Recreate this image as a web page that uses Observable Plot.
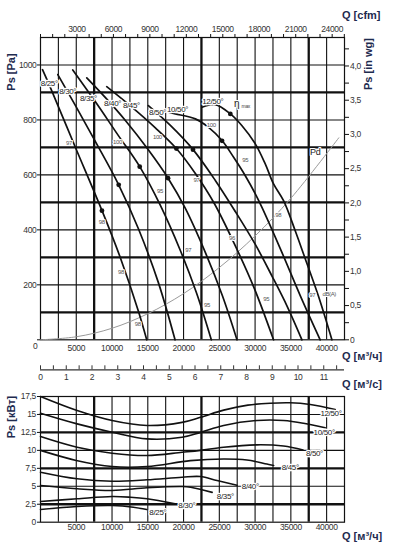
<!DOCTYPE html>
<html><head><meta charset="utf-8">
<script src="https://cdn.jsdelivr.net/npm/d3@7"></script>
<script src="https://cdn.jsdelivr.net/npm/@observablehq/plot@0.6"></script>
<style>
body{margin:0;background:#fff;}
#wrap{position:relative;width:393px;height:559px;overflow:hidden;}
#wrap svg{position:absolute;left:0;}
#wrap svg text{letter-spacing:-0.35px;}
.t{position:absolute;font:bold 11px "Liberation Sans",Arial,sans-serif;color:#1e2b4f;white-space:nowrap;line-height:11px;}
.r{transform:translate(-50%,-50%) rotate(-90deg);transform-origin:center;}
</style></head><body><div id="wrap"></div>
<script>
// ---------- axis / grid values ----------
const qGridThin = [2500,5000,10000,12500,15000,17500,20000,25000,27500,30000,32500,35000,40000];
const qGridThick = [7500,22500,37500];
const qLabels = [5000,10000,15000,20000,25000,30000,35000,40000];
const paGridThin = [200,400,600,800,1000];
const paGridThick = [100,300,500,700,900];
const paTicks = [0,200,400,600,800,1000];
const inwgMajor = [0,0.5,1,1.5,2,2.5,3,3.5,4];
const inwgMinor = [0.25,0.75,1.25,1.75,2.25,2.75,3.25,3.75,4.25];
const cfmMajor = [3000,6000,9000,12000,15000,18000,21000,24000];
const cfmMinor = [0,1000,2000,4000,5000,7000,8000,10000,11000,13000,14000,16000,17000,19000,20000,22000,23000,25000];
const msLabels = [0,1,2,3,4,5,6,7,8,9,10,11];
const msTicks = [0,0.5,1,1.5,2,2.5,3,3.5,4,4.5,5,5.5,6,6.5,7,7.5,8,8.5,9,9.5,10,10.5,11,11.5];
const kwTicks = [0,2.5,5,7.5,10,12.5,15,17.5];
const kwGridThin = [5,10,15];
const kwGridThick = [2.5,7.5,12.5];
const CFM = 1.69901, INWG = 249.089, M3S = 3600;

// ---------- fan pressure curves (Q m3/h, Ps Pa) ----------
const fans = ["8/25°","8/30°","8/35°","8/40°","8/45°","8/50°","10/50°","12/50°"];
const psQ = [
  [280,1400,4900,8600,11200,13700,14850],
  [2420,4890,7680,10930,13690,16480,18810],
  [4510,7680,10890,13870,16760,19550,21790,23880],
  [6470,9080,11870,14940,17840,20250,23040,25420,27470],
  [9260,12570,16060,18990,21650,24300,27090,29890,32580],
  [15080,18160,21330,24440,27230,30030,32400,34500,36550],
  [17880,18850,21650,23500,25380,27000,28630,30030,30960,33520,36310,39100],
  [22580,24440,26540,28170,30030,31420,32580,33980,35610,37010,38830,40740]
];
const psPa = [
  [983,917,699,470,296,103,0],
  [965,852,721,564,404,208,0],
  [982,866,743,630,489,325,172,0],
  [953,881,798,696,588,478,318,161,0],
  [921,851,771,696,605,496,350,187,0],
  [852,780,692,580,467,347,230,121,0],
  [828,822,804,773,725,664,597,531,482,332,161,0],
  [846,856,822,779,713,640,567,506,397,295,161,0]
];
// efficiency max points
const etaQ = [8590,10930,13870,17830,18990,21320,25380,26540];
const etaPa = [470,564,630,588,696,692,724,822];
// dynamic pressure
const pdQ = [0,5000,10000,15000,20000,25000,30000,35000,41700];
const pdPa = [0,11,42,95,168,263,378,515,735];
// curve labels
const fanLabelQ = [1230,3800,6700,10080,12710,16370,19160,24090];
const fanLabelPa = [933,904,880,860,852,828,840,868];
// noise labels dB(A)
const dbText = ["97","98","98","98","100","100","95","97","97","100","95","98","96","95","95","97","dB(A)"];
const dbQ = [3980,8560,11240,13590,10750,16340,16720,21790,20670,23880,28630,33240,26770,23280,31560,37990,40360];
const dbPa = [715,430,246,58,721,737,540,582,327,783,654,455,369,127,147,161,167];

// ---------- power curves (Q m3/h, kW) ----------
const kwQ = [
  [0,5120,10010,12990,14850],
  [0,5120,10010,12570,14900,18810],
  [0,5120,10010,14900,19790,21000,24000],
  [0,5120,10010,14900,19790,22350,24680,27470],
  [0,5000,10010,14900,20950,25600,28860,31650,32600],
  [0,5120,10010,14900,19790,22350,25600,30270,33980,36700],
  [0,5120,10010,14900,19790,22350,25600,30270,33980,36770,39800],
  [0,5120,10010,14900,19790,22350,25610,29000,32120,34920,37710,41200]
];
const kwVal = [
  [1.77,2.18,2.32,2.09,1.77],
  [2.88,3.26,3.58,3.48,3.26,2.56],
  [5.1,4.65,4.41,4.79,4.97,4.87,4.15],
  [6.96,6.04,5.7,5.9,6.26,6.36,5.8,5.15],
  [10.0,8.6,7.75,7.75,8.57,8.8,8.66,8.1,7.9],
  [11.93,10.44,9.6,9.28,9.74,10.0,10.44,10.77,10.6,10.05],
  [15.17,13.69,12.53,11.6,11.83,12.5,13.46,14.16,14.16,13.78,13.14],
  [17.5,15.55,14.16,13.46,13.9,14.6,15.6,16.3,16.56,16.62,16.38,15.69]
];
const kwLabelQ = [16410,20460,25840,29330,34920,38300,39660,40610];
const kwLabelVal = [1.39,2.32,3.58,4.97,7.57,9.6,12.44,15.09];

// ---------- build rows ----------
const psRows = fans.flatMap((f,i)=>psQ[i].map((q,j)=>({fan:f,q,p:psPa[i][j]})));
const kwRows = fans.flatMap((f,i)=>kwQ[i].map((q,j)=>({fan:f,q,p:kwVal[i][j]})));
const pdRows = pdQ.map((q,i)=>({q,p:pdPa[i]}));
const etaRows = etaQ.map((q,i)=>({q,p:etaPa[i]}));
const fanLab = fans.map((f,i)=>({t:f,q:fanLabelQ[i],p:fanLabelPa[i]}));
const dbRows = dbText.map((t,i)=>({t,q:dbQ[i],p:dbPa[i]}));
const kwLab = fans.map((f,i)=>({t:f,q:kwLabelQ[i],p:kwLabelVal[i]}));

const font = '"Liberation Sans Narrow","Liberation Sans",Arial,sans-serif';
const ink = "#111";
const comma = v => v===0 ? "0" : (Math.round(v*10)/10).toFixed(1).replace(".",",");
const style = {fontFamily:font,fontSize:"8.5px",color:"#333",background:"transparent",overflow:"visible"};

const topPlot = Plot.plot({
  width:393,height:362,marginLeft:40,marginRight:49,marginTop:37,marginBottom:22.7,
  x:{domain:[0,42500],label:null},y:{domain:[0,1100],label:null},style,
  marks:[
    Plot.ruleX(qGridThin,{stroke:ink,strokeWidth:1.1}),
    Plot.ruleX(qGridThick,{stroke:ink,strokeWidth:2.3}),
    Plot.ruleY(paGridThin,{stroke:ink,strokeWidth:1.1}),
    Plot.ruleY(paGridThick,{stroke:ink,strokeWidth:2.3}),
    Plot.frame({stroke:ink,strokeWidth:1.2}),
    Plot.line(pdRows,{x:"q",y:"p",stroke:"#9a9a9a",strokeWidth:1,curve:"catmull-rom"}),
    Plot.line(psRows,{x:"q",y:"p",z:"fan",stroke:ink,strokeWidth:1.7,curve:"catmull-rom"}),
    Plot.dot(etaRows,{x:"q",y:"p",r:2.4,fill:ink}),
    Plot.text(dbRows,{x:"q",y:"p",text:"t",fontSize:6,fill:"#555",stroke:"white",strokeWidth:2,paintOrder:"stroke"}),
    Plot.text(fanLab,{x:"q",y:"p",text:"t",fontSize:8,fill:"#222",stroke:"white",strokeWidth:2.5,paintOrder:"stroke"}),
    Plot.text([{q:27400,p:858}],{x:"q",y:"p",text:()=>"η",fontSize:10,fill:"#222",stroke:"white",strokeWidth:2,paintOrder:"stroke"}),
    Plot.text([{q:28700,p:851}],{x:"q",y:"p",text:()=>"max",fontSize:5,fill:"#444"}),
    Plot.text([{q:38400,p:682}],{x:"q",y:"p",text:()=>"Pd",fontSize:9,fill:"#222",stroke:"white",strokeWidth:2,paintOrder:"stroke"}),
    Plot.text([{q:0,p:0}],{x:"q",y:"p",text:()=>"0",dx:-3,dy:6,textAnchor:"end",fontSize:8.5,fill:"#333"}),
    Plot.axisY({anchor:"left",ticks:paTicks,tickSize:3,tickPadding:1,stroke:ink,tickFormat:d=>d===0?"":String(d)}),
    Plot.axisY({anchor:"right",ticks:inwgMinor.map(v=>v*INWG),tickSize:4,stroke:ink,tickFormat:()=>""}),
    Plot.axisY({anchor:"right",ticks:inwgMajor.map(v=>v*INWG),tickSize:4,tickPadding:1.5,stroke:ink,tickFormat:d=>comma(d/INWG)}),
    Plot.axisX({anchor:"top",ticks:cfmMinor.map(c=>c*CFM),tickSize:4,stroke:ink,tickFormat:()=>""}),
    Plot.axisX({anchor:"top",ticks:cfmMajor.map(c=>c*CFM),tickSize:4,tickPadding:2,stroke:ink,tickFormat:d=>String(Math.round(d/CFM/100)*100)}),
    Plot.axisX({anchor:"bottom",ticks:qLabels,tickSize:0,tickPadding:5,tickFormat:d=>String(d)})
  ]
});
topPlot.style.top="0px";

const msPlot = Plot.plot({
  width:393,height:32,marginLeft:40,marginRight:49,marginTop:10.3,marginBottom:17.7,
  x:{domain:[0,42500],label:null},y:{domain:[0,1],axis:null},style,
  marks:[
    Plot.tickX(msTicks,{x:d=>d*M3S,stroke:"#333"}),
    Plot.ruleY([0],{stroke:"#333",strokeWidth:1.2}),
    Plot.axisX({anchor:"bottom",ticks:msLabels.map(v=>v*M3S),tickSize:0,tickPadding:4,tickFormat:d=>String(Math.round(d/M3S))})
  ]
});
msPlot.style.top="355px";

const kwPlot = Plot.plot({
  width:393,height:172,marginLeft:40,marginRight:49,marginTop:9,marginBottom:37.3,
  x:{domain:[0,42500],label:null},y:{domain:[0,17.5],label:null},style,
  marks:[
    Plot.ruleX(qGridThin,{stroke:ink,strokeWidth:1.1}),
    Plot.ruleX(qGridThick,{stroke:ink,strokeWidth:2.3}),
    Plot.ruleY(kwGridThin,{stroke:ink,strokeWidth:1.1}),
    Plot.ruleY(kwGridThick,{stroke:ink,strokeWidth:2.3}),
    Plot.frame({stroke:ink,strokeWidth:1.2}),
    Plot.line(kwRows,{x:"q",y:"p",z:"fan",stroke:ink,strokeWidth:1.6,curve:"catmull-rom"}),
    Plot.text(kwLab,{x:"q",y:"p",text:"t",fontSize:8,fill:"#222",stroke:"white",strokeWidth:2.5,paintOrder:"stroke"}),
    Plot.axisY({anchor:"left",ticks:kwTicks,tickSize:3,tickPadding:1.5,stroke:ink,tickFormat:d=>String(d).replace(".",",")}),
    Plot.axisX({anchor:"bottom",ticks:qLabels,tickSize:0,tickPadding:2,tickFormat:d=>String(d)})
  ]
});
kwPlot.style.top="387px";

const wrap = document.getElementById("wrap");
wrap.append(topPlot,msPlot,kwPlot);
const titles = [
  ["Q [cfm]",342,10,false],
  ["Q [м³/ч]",342,351,false],
  ["Q [м³/с]",342,379,false],
  ["Q [м³/ч]",342,531,false],
  ["Ps [Pa]",10.5,72,true],
  ["Ps [in wg]",368,64,true],
  ["Ps [кВт]",10.5,417,true]
];
for(const [t,x,y,rot] of titles){
  const d=document.createElement("div");
  d.className="t"+(rot?" r":"");
  d.textContent=t;
  d.style.left=x+"px"; d.style.top=y+"px";
  wrap.append(d);
}
</script></body></html>
